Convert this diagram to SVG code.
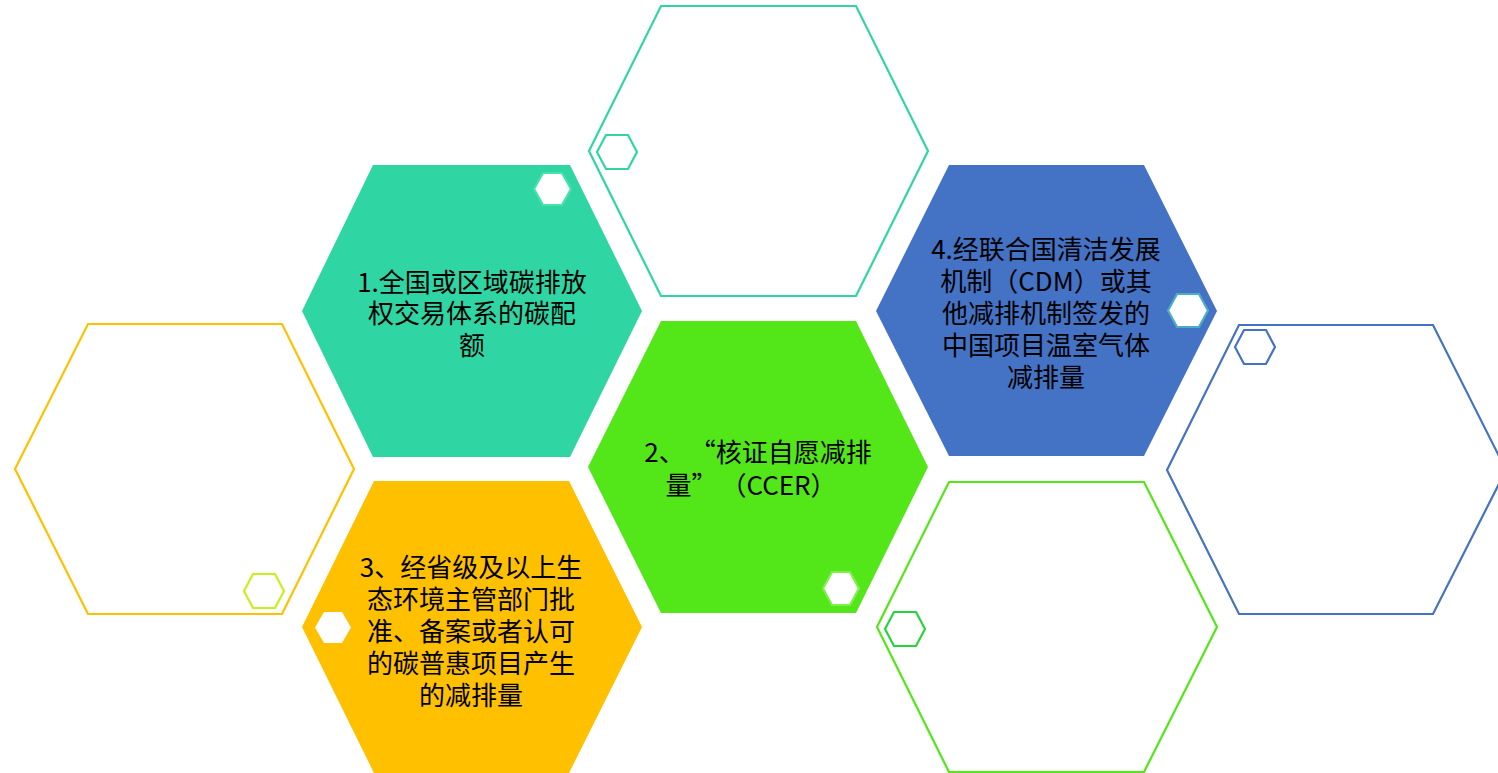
<svg xmlns="http://www.w3.org/2000/svg" width="1498" height="773" viewBox="0 0 1498 773">
<style>
.t{font-family:"Noto Sans CJK SC","Liberation Sans",sans-serif;font-size:26px;fill:#000;text-anchor:middle;dominant-baseline:central}
.ol{fill:none;stroke-width:2.2}
.sm{fill:#fff;stroke-width:2.2}
</style>
<rect width="1498" height="773" fill="#fff"/>
<g id="hex-top-outline">
<polygon class="ol" stroke="#2FD6A4" points="589,151 661,6 856,6 928,151 856,296 661,296"/>
<polygon class="sm" stroke="#2FD6A4" points="597,152 606,135 628,135 637,152 628,169 606,169"/>
</g>
<g id="hex-1">
<polygon fill="#2FD6A4" points="302,311 373,165 570,165 642,311 570,457 373,457"/>
<polygon class="sm" stroke="#45E3A8" points="534,189 543,173 562,173 571,189 562,205 543,205"/>
<text class="t" x="472" y="280">1.全国或区域碳排放</text>
<text class="t" x="472" y="311.5">权交易体系的碳配</text>
<text class="t" x="472" y="343">额</text>
</g>
<g id="hex-4">
<polygon fill="#4472C4" points="876,311 949,165 1144,165 1217,311 1144,456 949,456"/>
<polygon class="sm" stroke="#4BACC6" stroke-width="2.5" points="1168,310.5 1177,294 1199,294 1208,310.5 1199,327 1177,327"/>
<text class="t" x="1046" y="247">4.经联合国清洁发展</text>
<text class="t" x="1046" y="279">机制（CDM）或其</text>
<text class="t" x="1046" y="311">他减排机制签发的</text>
<text class="t" x="1046" y="343">中国项目温室气体</text>
<text class="t" x="1046" y="375">减排量</text>
</g>
<g id="hex-left-outline">
<polygon class="ol" stroke="#FFC000" points="15,469 88,324 282,324 354,469 282,614 88,614"/>
<polygon class="sm" stroke="#C6F01C" points="244,591 253,574 275,574 284,591 275,608 253,608"/>
</g>
<g id="hex-2">
<polygon fill="#53E619" points="588,467 661,321 856,321 928,467 856,613 661,613"/>
<polygon class="sm" stroke="#7FF04A" points="823,588.5 832,572 850,572 859,588.5 850,605 832,605"/>
<text class="t" x="758" y="450">2、<tspan dx="18">“核证自愿减排</tspan></text>
<text class="t" x="751" y="483">量”<tspan dx="16">（CCER）</tspan></text>
</g>
<g id="hex-right-outline">
<polygon class="ol" stroke="#4472C4" points="1167,470 1239,325 1433,325 1506,470 1433,614 1239,614"/>
<polygon class="sm" stroke="#4472C4" points="1235,347 1244,330 1266,330 1275,347 1266,364 1244,364"/>
</g>
<g id="hex-3">
<polygon fill="#FFC000" points="302,627 374,481 569,481 642,627 569,773 374,773"/>
<polygon fill="#fff" points="315,627.5 324,612 342,612 351,627.5 342,643 324,643"/>
<text class="t" x="471" y="565">3、经省级及以上生</text>
<text class="t" x="471" y="597">态环境主管部门批</text>
<text class="t" x="471" y="629">准、备案或者认可</text>
<text class="t" x="471" y="661">的碳普惠项目产生</text>
<text class="t" x="471" y="693">的减排量</text>
</g>
<g id="hex-bottom-right-outline">
<polygon class="ol" stroke="#53E619" points="877,627 949,482 1144,482 1217,627 1144,772 949,772"/>
<polygon class="sm" stroke="#25D43C" points="885,629 894,612 916,612 925,629 916,646 894,646"/>
</g>
</svg>
